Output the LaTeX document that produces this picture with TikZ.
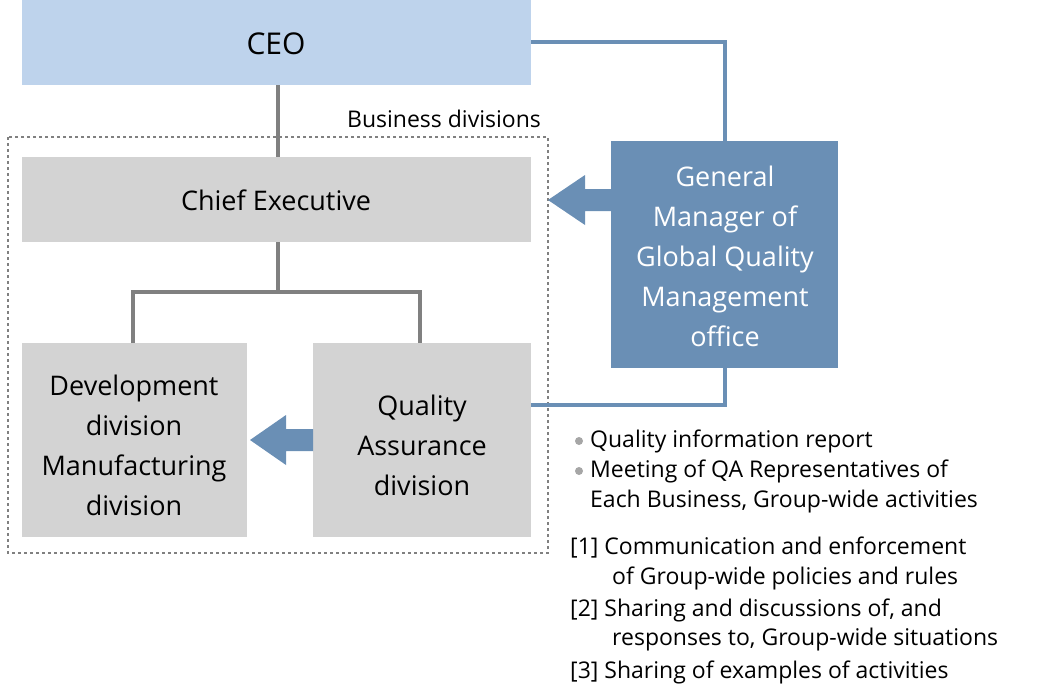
\documentclass[tikz,border=0pt]{standalone}
\usepackage{fontspec}
\setmainfont{Open Sans}
\usetikzlibrary{shapes.arrows}
\definecolor{ceo}{HTML}{BED3EC}
\definecolor{gbox}{HTML}{D3D3D3}
\definecolor{blu}{HTML}{6A8FB5}
\definecolor{gline}{HTML}{808080}
\begin{document}
\begin{tikzpicture}[x=1pt,y=-1pt,
  box/.style={draw=none,inner sep=0,align=center,font=\fontsize{27}{40}\selectfont},
  tline/.style={gline,line width=4pt},
  bline/.style={blu,line width=4pt},
  barrow/.style={fill=blu,draw=none}]
\useasboundingbox (0,0) rectangle (1047,686);
\fill[ceo] (22,0) rectangle (531,85);
\node[box,font=\fontsize{30}{36}\selectfont] (ceo) at (276,44) {CEO};
\draw[gline,dashed,line width=1.5pt] (8,137) rectangle (548,553);
\node[font=\fontsize{23}{28}\selectfont] (bd) at (444,119) {Business divisions};
\fill[gbox] (22,157) rectangle (531,242);
\node[box] (ce) at (276,200) {Chief Executive};
\fill[gbox] (22,343) rectangle (247,537);
\node[box] (dev) at (134,445) {Development\\division\\Manufacturing\\division};
\fill[gbox] (313,343) rectangle (531,537);
\node[box] (qa) at (422,445) {Quality\\Assurance\\division};
\fill[blu] (611,141) rectangle (838,368);
\node[box,text=white] (gm) at (725,256) {General\\Manager of\\Global Quality\\Management\\office};
\draw[tline] (278,85) -- (278,157);
\draw[tline] (278,242) -- (278,292) coordinate (j);
\draw[tline] (133,343) -- (133,292) -- (420,292) -- (420,343);
\draw[bline] (531,42) -- (725,42) -- (725,141);
\draw[bline] (725,368) -- (725,405) -- (531,405);
\fill[blu] (611,189) -- (585,189) -- (585,175) -- (548,200) -- (585,225) -- (585,211) -- (611,211) -- cycle;
\fill[blu] (313,429) -- (286,429) -- (286,415) -- (250,440) -- (286,465) -- (286,451) -- (313,451) -- cycle;
\begin{scope}[every node/.style={anchor=west,inner sep=0,font=\fontsize{23}{30}\selectfont}]
\fill[gline!70] (579,441) circle (4);
\node (l1) at (590,441) {Quality information report};
\fill[gline!70] (579,471) circle (4);
\node (l2) at (590,471) {Meeting of QA Representatives of};
\node (l3) at (590,502) {Each Business, Group-wide activities};
\node (l4) at (570,548) {[1] Communication and enforcement};
\node (l5) at (612,578) {of Group-wide policies and rules};
\node (l6) at (570,610) {[2] Sharing and discussions of, and};
\node (l7) at (612,640) {responses to, Group-wide situations};
\node (l8) at (570,672) {[3] Sharing of examples of activities};
\end{scope}
\end{tikzpicture}
\end{document}
